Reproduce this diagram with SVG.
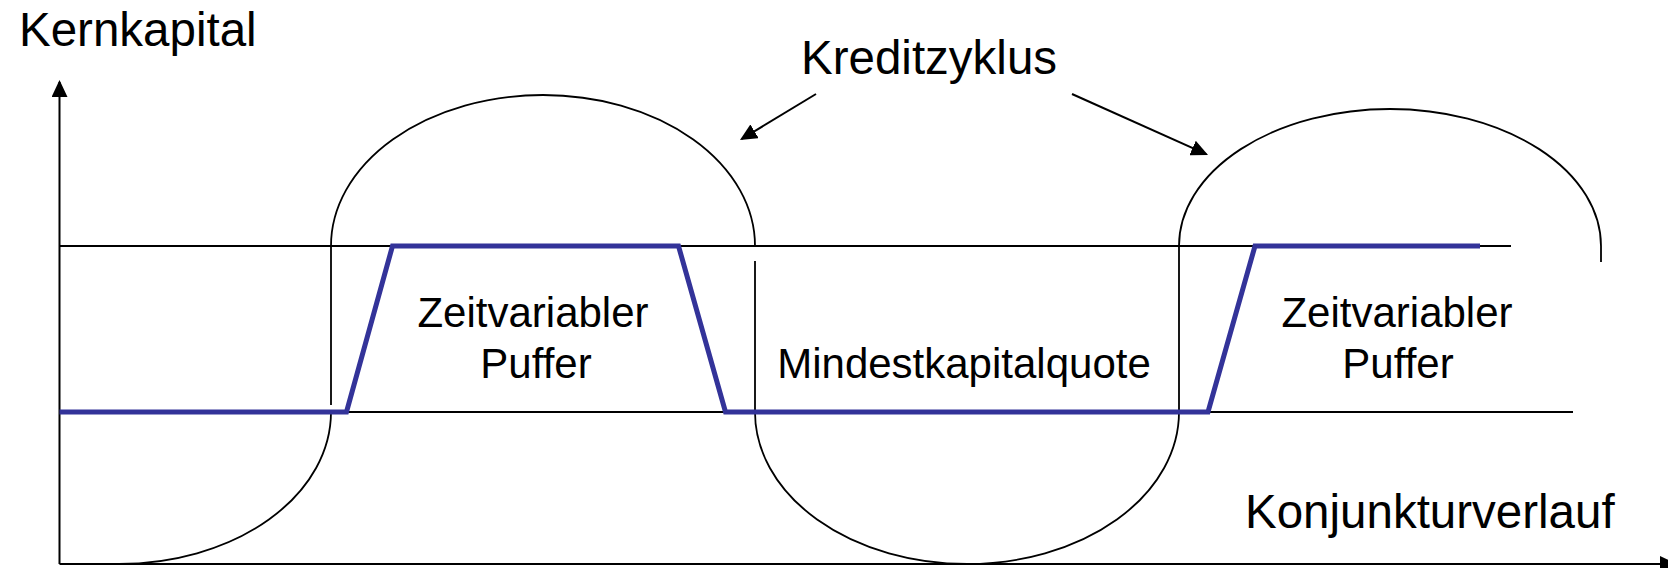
<svg xmlns="http://www.w3.org/2000/svg" width="1668" height="568" viewBox="0 0 1668 568">
  <style>
    .ln { fill: none; stroke: #000; stroke-width: 2; }
    .cyc { fill: none; stroke: #000; stroke-width: 1.8; }
    .buf { fill: none; stroke: #333399; stroke-width: 5; stroke-linejoin: miter; }
    .t { font-family: "Liberation Sans", Arial, sans-serif; fill: #000; }
    .big { font-size: 47.5px; }
    .mid { font-size: 42px; text-anchor: middle; }
  </style>
  <defs>
    <marker id="ah" markerUnits="userSpaceOnUse" markerWidth="17" markerHeight="16" refX="15" refY="8" orient="auto">
      <path d="M0,0 L17,8 L0,16 Z" fill="#000"/>
    </marker>
  </defs>
  <rect width="1668" height="568" fill="#fff"/>

  <g id="axes">
    <line class="ln" x1="59.5" y1="564" x2="59.5" y2="82" marker-end="url(#ah)"/>
    <line class="ln" x1="59.5" y1="564" x2="1675" y2="564" marker-end="url(#ah)"/>
  </g>

  <g id="levels">
    <line class="ln" x1="59.5" y1="246" x2="1511" y2="246"/>
    <line class="ln" x1="59.5" y1="412" x2="1573" y2="412"/>
  </g>

  <g id="credit-cycle">
    <path class="cyc" d="M119,564 A212,152 0 0 0 331,412"/>
    <line class="cyc" x1="331" y1="246" x2="331" y2="405"/>
    <path class="cyc" d="M331,246 A212,151 0 0 1 755,246"/>
    <line class="cyc" x1="755" y1="261" x2="755" y2="412"/>
    <path class="cyc" d="M755,412 A212,152 0 0 0 1179,412 L1179,246"/>
    <path class="cyc" d="M1179,246 A211,137 0 0 1 1601,246 L1601,262"/>
  </g>

  <g id="buffer-line">
    <path class="buf" d="M59.5,412 L346.5,412 L392.5,246 L678.5,246 L725.5,412 L1208,412 L1255,246 L1480,246"/>
  </g>

  <g id="connectors">
    <line class="ln" x1="816" y1="94" x2="741.7" y2="139" marker-end="url(#ah)"/>
    <line class="ln" x1="1072" y1="94" x2="1206.2" y2="154.2" marker-end="url(#ah)"/>
  </g>

  <g id="label-kernkapital"><text class="t big" x="19" y="46" font-size="47">Kernkapital</text></g>
  <g id="label-kreditzyklus"><text class="t big" x="801" y="74">Kreditzyklus</text></g>
  <g id="label-puffer-1">
    <text class="t mid" x="533" y="327">Zeitvariabler</text>
    <text class="t mid" x="536" y="378">Puffer</text>
  </g>
  <g id="label-mindestkapitalquote"><text class="t mid" x="964" y="378">Mindestkapitalquote</text></g>
  <g id="label-puffer-2">
    <text class="t mid" x="1397" y="327">Zeitvariabler</text>
    <text class="t mid" x="1398" y="378">Puffer</text>
  </g>
  <g id="label-konjunktur"><text class="t big" x="1245" y="528">Konjunkturverlauf</text></g>
</svg>
